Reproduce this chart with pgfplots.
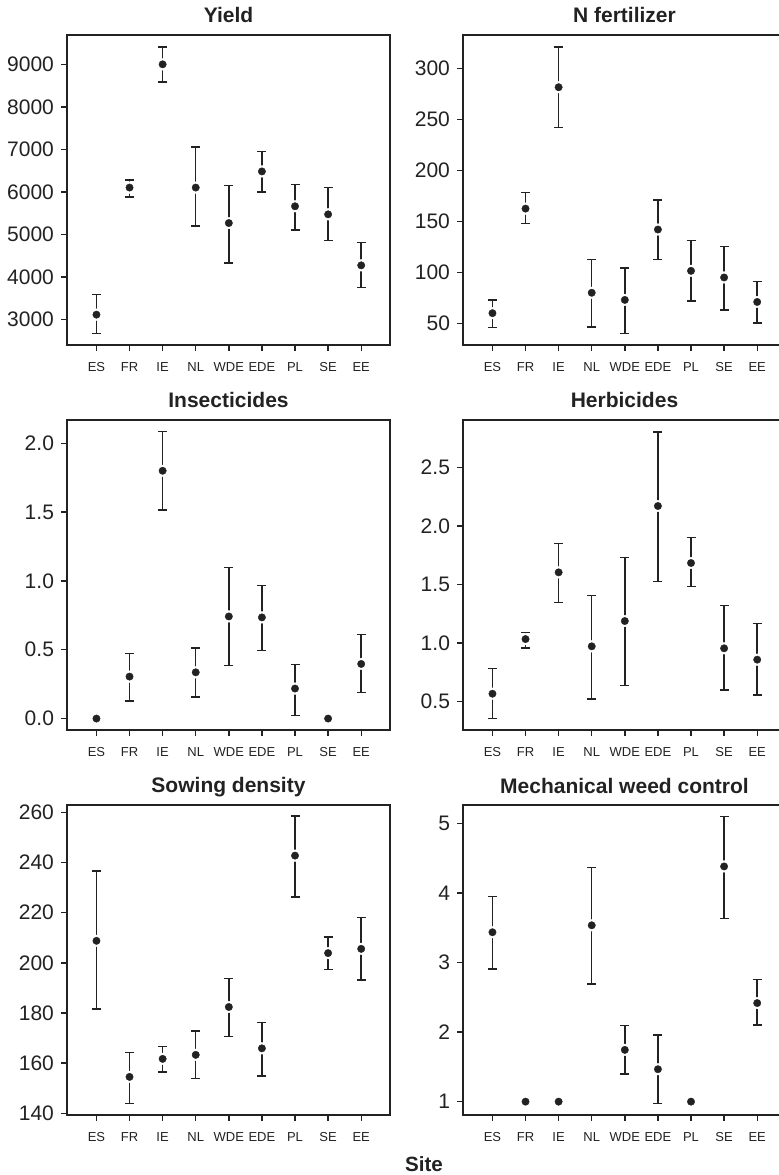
\documentclass[border=0pt]{standalone}
\usepackage{pgfplots}
\usepackage{pgfplotstable}
\pgfplotsset{compat=1.18}
\usepackage{fontspec}
\setmainfont{Liberation Sans}
\definecolor{ink}{HTML}{222222}

\pgfplotstableread{
x y lo hi
1 3110 2670 3590
2 6100 5880 6280
3 9000 8580 9410
4 6100 5195 7055
5 5265 4325 6145
6 6480 5990 6945
7 5660 5100 6175
8 5470 4860 6100
9 4270 3745 4805
}\tabYield
\pgfplotstableread{
x y lo hi
1 60 46 73
2 162.5 148 178.5
3 281.5 242 321
4 80 46.5 112.5
5 73 40 104.5
6 142 112.5 171
7 101.5 72 131
8 95 63 125.5
9 71 50.5 91
}\tabN
\pgfplotstableread{
x y lo hi
1 0 0 0
2 0.305 0.126 0.474
3 1.80 1.515 2.085
4 0.336 0.157 0.513
5 0.742 0.385 1.096
6 0.735 0.496 0.967
7 0.218 0.022 0.394
8 0 0 0
9 0.397 0.189 0.612
}\tabIns
\pgfplotstableread{
x y lo hi
1 0.568 0.358 0.782
2 1.035 0.960 1.090
3 1.605 1.349 1.850
4 0.973 0.523 1.406
5 1.189 0.637 1.734
6 2.172 1.528 2.805
7 1.685 1.483 1.902
8 0.956 0.600 1.321
9 0.859 0.557 1.170
}\tabHerb
\pgfplotstableread{
x y lo hi
1 208.8 181.5 236.7
2 154.5 143.9 164.2
3 161.7 156.4 166.6
4 163.3 153.8 172.9
5 182.4 170.6 193.7
6 165.9 154.9 176.2
7 242.8 226.3 258.7
8 203.9 197.3 210.4
9 205.6 193.2 218.2
}\tabSow
\pgfplotstableread{
x y lo hi
1 3.435 2.906 3.948
2 1 1 1
3 1 1 1
4 3.535 2.690 4.366
5 1.744 1.394 2.095
6 1.466 0.976 1.960
7 1 1 1
8 4.381 3.636 5.101
9 2.417 2.104 2.757
}\tabMech

\pgfplotsset{
  panel/.style={
    scale only axis, width=161.5pt, height=155pt,
    anchor=south west,
    xmin=0.11, xmax=9.87,
    xtick={1,...,9},
    xticklabels={ES,FR,IE,NL,WDE,EDE,PL,SE,EE},
    axis line style={ink, line width=0.75pt},
    tick style={ink, line width=0.7pt},
    tick align=outside, major tick length=3pt,
    tick pos=left,
    x tick label style={font=\fontsize{6.5}{7}\selectfont, text=ink, yshift=-2pt},
    y tick label style={font=\fontsize{10.5}{12}\selectfont, text=ink},
    title style={font=\bfseries\fontsize{10.5}{12}\selectfont, text=ink, at={(0.5,1)}, anchor=base, yshift=0pt},
    /pgf/number format/assume math mode=true,
    /pgf/number format/1000 sep={},
  },
}
\newcommand\drawpanel[1]{%
  \addplot[only marks, mark=none,
    error bars/.cd, y dir=both, y explicit,
    error bar style={ink, line width=0.75pt},
    error mark options={ink, rotate=90, mark size=2.25pt, line width=0.75pt}]
    table[x=x, y=y, y error plus expr=\thisrow{hi}-\thisrow{y}, y error minus expr=\thisrow{y}-\thisrow{lo}] {#1};
  \addplot[only marks, mark=*, mark size=2.9pt, mark options={draw=white, fill=white, line width=0.2pt}] table[x=x, y=y] {#1};
  \addplot[only marks, mark=*, mark size=1.85pt, mark options={draw=ink, fill=ink, line width=0.2pt}] table[x=x, y=y] {#1};
}

\begin{document}
\begin{tikzpicture}
\useasboundingbox (0,0) rectangle (389pt,587.5pt);

\begin{axis}[panel, at={(33.5pt,415pt)}, title={Yield},
  ymin=2396, ymax=9690, ytick={3000,4000,...,9000}]
\drawpanel{\tabYield}
\end{axis}

\begin{axis}[panel, at={(231.5pt,415pt)}, title={N fertilizer},
  ymin=28.8, ymax=332.7, ytick={50,100,...,300}]
\drawpanel{\tabN}
\end{axis}

\begin{axis}[panel, at={(33.5pt,222.5pt)}, title={Insecticides},
  ymin=-0.083, ymax=2.169, ytick={0,0.5,...,2},
  yticklabel style={/pgf/number format/.cd, fixed, fixed zerofill, precision=1}]
\drawpanel{\tabIns}
\end{axis}

\begin{axis}[panel, at={(231.5pt,222.5pt)}, title={Herbicides},
  ymin=0.258, ymax=2.907, ytick={0.5,1,...,2.5},
  yticklabel style={/pgf/number format/.cd, fixed, fixed zerofill, precision=1}]
\drawpanel{\tabHerb}
\end{axis}

\begin{axis}[panel, at={(33.5pt,30pt)}, title={Sowing density},
  ymin=139.3, ymax=263, ytick={140,160,...,260}]
\drawpanel{\tabSow}
\end{axis}

\begin{axis}[panel, at={(231.5pt,30pt)}, title={Mechanical weed control},
  ymin=0.808, ymax=5.264, ytick={1,2,...,5}]
\drawpanel{\tabMech}
\end{axis}

\node[font=\bfseries\fontsize{10.3}{12}\selectfont, text=ink, anchor=base] at (212pt,1.8pt) {Site};
\end{tikzpicture}
\end{document}
